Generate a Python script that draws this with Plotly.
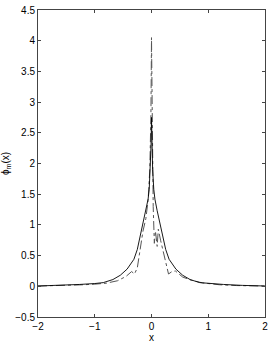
import plotly.graph_objects as go

# solid curve
x_solid = [-2.0, -1.6, -1.27, -1.0, -0.85, -0.68, -0.55, -0.43, -0.31, -0.25, -0.21, -0.145, -0.1, -0.06, -0.04, -0.02, -0.008, 0.0,
           0.008, 0.02, 0.04, 0.06, 0.1, 0.145, 0.21, 0.25, 0.31, 0.43, 0.55, 0.68, 0.85, 1.0, 1.27, 1.6, 2.0]
y_solid = [0.005, 0.015, 0.03, 0.045, 0.06, 0.11, 0.18, 0.28, 0.44, 0.6, 0.77, 1.05, 1.23, 1.42, 1.58, 1.9, 2.3, 2.75,
           2.3, 1.9, 1.58, 1.42, 1.23, 1.05, 0.77, 0.6, 0.44, 0.28, 0.18, 0.11, 0.06, 0.045, 0.03, 0.015, 0.005]

# dashed curve
x_dash = [-2.0, -1.5, -1.2, -1.0, -0.8, -0.6, -0.45, -0.35, -0.3, -0.25, -0.2, -0.15, -0.1, -0.06, -0.03, -0.01, 0.0,
          0.01, 0.03, 0.05, 0.07, 0.1, 0.12, 0.16, 0.22, 0.3, 0.36, 0.42, 0.55, 0.7, 0.9, 1.2, 1.5, 2.0]
y_dash = [0.004, 0.012, 0.025, 0.035, 0.05, 0.09, 0.16, 0.24, 0.2, 0.3, 0.6, 0.9, 1.1, 1.4, 1.9, 2.8, 4.05,
          2.6, 1.3, 0.7, 0.9, 0.65, 0.93, 0.75, 0.5, 0.2, 0.24, 0.25, 0.15, 0.1, 0.055, 0.025, 0.012, 0.004]

x_ticks = [-2, -1, 0, 1, 2]
y_ticks = [-0.5, 0, 0.5, 1, 1.5, 2, 2.5, 3, 3.5, 4, 4.5]
y_tick_labels = ["\u22120.5", "0", "0.5", "1", "1.5", "2", "2.5", "3", "3.5", "4", "4.5"]
x_tick_labels = ["\u22122", "\u22121", "0", "1", "2"]

FONT = "Liberation Sans, Arial, sans-serif"

fig = go.Figure()
fig.add_trace(go.Scatter(x=x_dash, y=y_dash, mode="lines",
                         line=dict(color="#555555", width=1, dash="dashdot"), showlegend=False))
fig.add_trace(go.Scatter(x=x_solid, y=y_solid, mode="lines",
                         line=dict(color="black", width=0.9), showlegend=False))

axis_common = dict(showgrid=False, zeroline=False, showline=True, linecolor="#444444", linewidth=1,
                   mirror="ticks", ticks="inside", ticklen=3, tickcolor="#444444", automargin=False,
                   ticklabeloverflow="allow",
                   tickfont=dict(family=FONT, size=10, color="black"))

fig.update_xaxes(range=[-2, 2], tickvals=x_ticks, ticktext=x_tick_labels,
                 title=dict(text="x", font=dict(family=FONT, size=10, color="black"), standoff=0),
                 **axis_common)
fig.update_yaxes(range=[-0.5, 4.5], tickvals=y_ticks, ticktext=y_tick_labels,
                 title=dict(text="\u03d5<sub>m</sub>(x)", font=dict(family=FONT, size=10, color="black"), standoff=6),
                 **axis_common)

fig.update_layout(width=272, height=349, margin=dict(l=38, r=7, t=10, b=32),
                  plot_bgcolor="white", paper_bgcolor="white")

fig.write_html("out.html", config={"displayModeBar": False},
               post_script="document.body.style.margin='0';document.body.style.overflow='hidden';")
